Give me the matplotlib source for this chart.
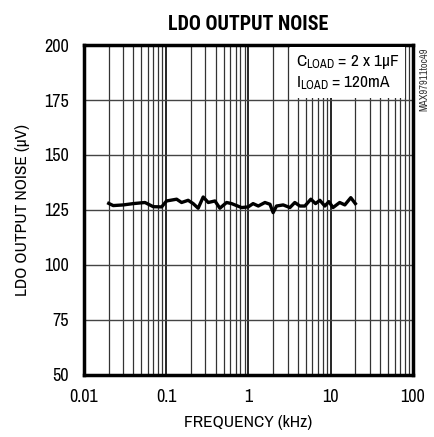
import matplotlib
matplotlib.use("Agg")
import matplotlib.pyplot as plt
from matplotlib.ticker import NullFormatter, LogLocator

plt.rcParams['font.family'] = ['Archivo Narrow', 'Roboto Condensed', 'Liberation Sans', 'DejaVu Sans']
plt.rcParams['mathtext.fontset'] = 'custom'
plt.rcParams['mathtext.rm'] = 'Archivo Narrow'

freq_khz = [0.02, 0.0227, 0.0301, 0.0398, 0.0552, 0.0696, 0.0881, 0.101, 0.134, 0.154,
            0.185, 0.213, 0.245, 0.282, 0.325, 0.392, 0.450, 0.543, 0.625, 0.826,
            0.995, 1.14, 1.32, 1.59, 1.83, 2.00, 2.20, 2.65, 3.20, 3.67,
            4.23, 4.86, 5.75, 6.56, 7.40, 8.51, 9.52, 10.7, 12.9, 14.9,
            17.6, 20.0]
noise_uv = [128.0, 127.0, 127.3, 127.9, 128.4, 126.5, 126.4, 129.1, 129.9, 128.4,
            129.4, 127.9, 125.8, 130.9, 128.4, 129.1, 125.8, 128.4, 127.9, 126.1,
            126.4, 127.9, 126.8, 128.4, 127.6, 123.8, 126.8, 127.3, 126.1, 128.4,
            126.8, 126.8, 129.9, 127.9, 129.4, 126.8, 128.8, 126.1, 128.4, 127.3,
            130.6, 127.9]

x_ticks = [0.01, 0.1, 1, 10, 100]
x_tick_labels = ['0.01', '0.1', '1', '10', '100']
y_ticks = [50, 75, 100, 125, 150, 175, 200]

fig = plt.figure(figsize=(4.35, 4.37), dpi=100)
ax = fig.add_axes([0.193, 0.142, 0.756, 0.755])

ax.set_xscale('log')
ax.set_xlim(0.01, 100)
ax.set_ylim(50, 200)

ax.set_xticks(x_ticks)
ax.set_xticklabels(x_tick_labels)
ax.xaxis.set_minor_locator(LogLocator(base=10, subs=range(2, 10)))
ax.xaxis.set_minor_formatter(NullFormatter())
ax.set_yticks(y_ticks)

ax.grid(True, which='major', axis='x', color='black', linewidth=1.2)
ax.grid(True, which='minor', axis='x', color='#333333', linewidth=0.9)
ax.grid(True, which='major', axis='y', color='#444444', linewidth=1.0)
ax.set_axisbelow(True)

ax.tick_params(axis='y', which='both', length=0, labelsize=13, pad=11)
ax.tick_params(axis='x', which='both', length=0, labelsize=13, pad=10)

for s in ax.spines.values():
    s.set_linewidth(2.5)
    s.set_color('black')

ax.plot(freq_khz, noise_uv, color='black', linewidth=2.4, zorder=3)

ax.set_xlabel('FREQUENCY (kHz)', fontsize=12.5, labelpad=7)
ax.set_ylabel('LDO OUTPUT NOISE (µV)', fontsize=12.5, labelpad=10)

ax.set_title('LDO OUTPUT NOISE', fontsize=14.5, fontweight='bold', pad=11,
             family=['Roboto Condensed', 'Liberation Sans', 'DejaVu Sans'])

ax.text(0.645, 0.975, '$\\mathregular{C_{LOAD}}$ = 2 x 1µF\n$\\mathregular{I_{LOAD}}$ = 120mA',
        transform=ax.transAxes, ha='left', va='top', fontsize=12.5, linespacing=1.2,
        zorder=4,
        bbox=dict(facecolor='white', edgecolor='none', boxstyle='square,pad=0.35'))

fig.text(0.976, 0.892, 'MAX97911toc49', rotation=90, ha='center', va='top',
         fontsize=7.5, color='#333333')

fig.savefig('out.png', dpi=100)
